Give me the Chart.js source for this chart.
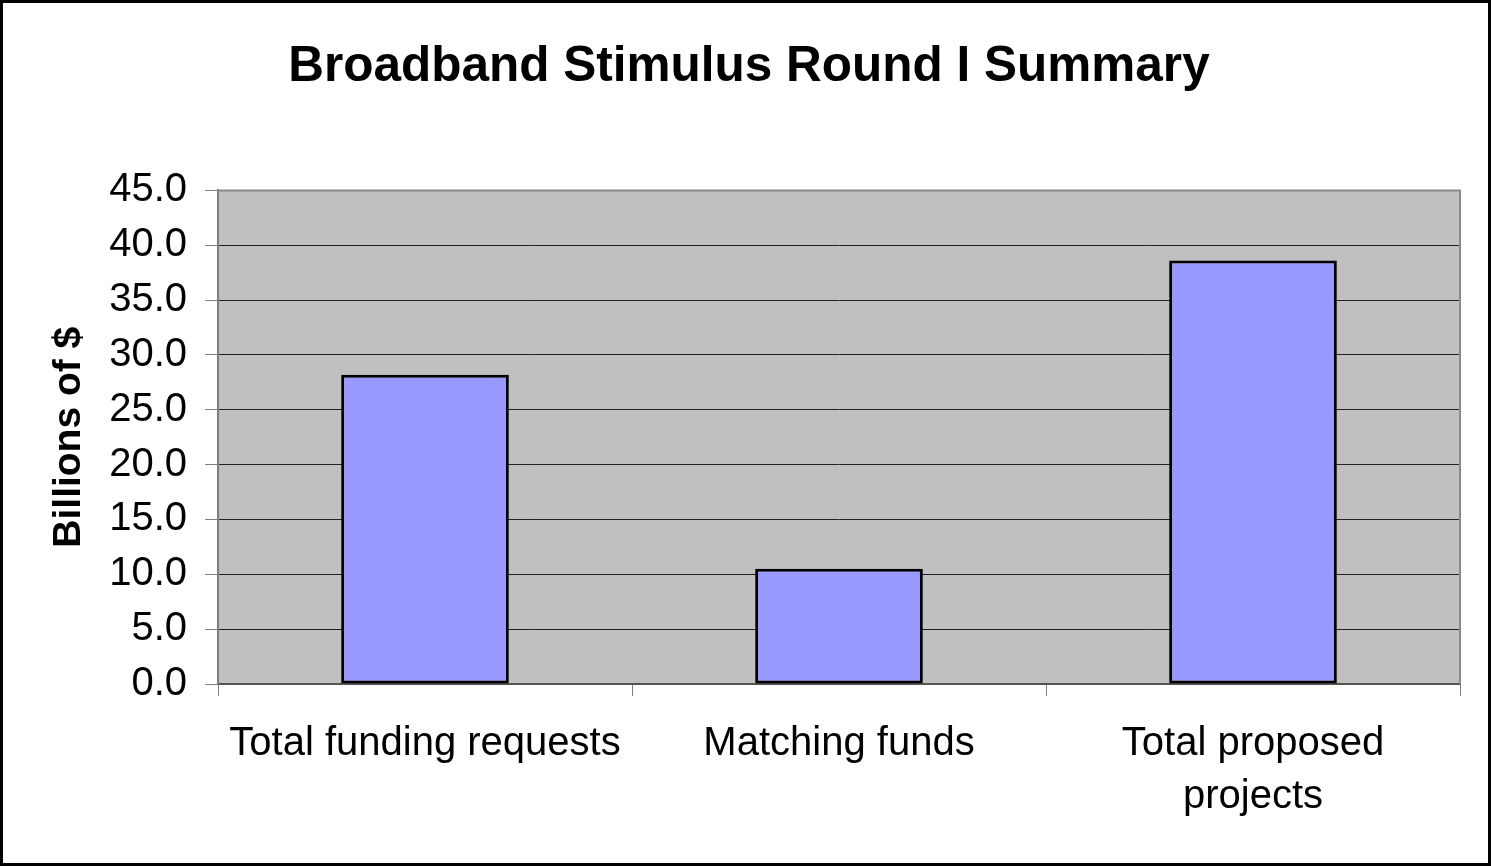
<!DOCTYPE html>
<html>
<head>
<meta charset="utf-8">
<script src="https://cdn.jsdelivr.net/npm/chart.js@4"></script>
<style>
    body { margin: 0; background: #fff; }
    #frame { width: 1491px; height: 866px; box-sizing: border-box; border: 3px solid #000; }
    canvas { display: block; }
</style>
</head>
<body>
<div id="frame"><canvas id="stimulusChart" width="1485" height="860"></canvas></div>
<script>
    const categories = ['Total funding requests', 'Matching funds', ['Total proposed', 'projects']];
    const billions = [28.2, 10.5, 38.6];
    const yMin = 0, yMax = 45, yStep = 5;

    const FONT = '"Liberation Sans", Arial, sans-serif';

    // grey plot area with a grey frame, like the old Excel chart
    const plotArea = {
        id: 'plotArea',
        beforeDraw(chart) {
            const a = chart.chartArea, c = chart.ctx;
            c.save();
            c.fillStyle = '#C0C0C0';
            c.fillRect(a.left, a.top, a.right - a.left, a.bottom - a.top);
            c.restore();
        },
        afterDraw(chart) {
            const a = chart.chartArea, c = chart.ctx;
            c.save();
            c.strokeStyle = '#8a8a8a';
            c.lineWidth = 2;
            c.beginPath();
            c.moveTo(a.left, a.top);
            c.lineTo(a.right, a.top);
            c.lineTo(a.right, a.bottom);
            c.stroke();
            c.restore();
        }
    };

    const ctx = document.getElementById('stimulusChart').getContext('2d');

    new Chart(ctx, {
        type: 'bar',
        data: {
            labels: categories,
            datasets: [{
                data: billions,
                backgroundColor: '#9999FF',
                borderColor: '#000',
                borderWidth: 3,
                borderSkipped: false,
                barPercentage: 0.405,
                categoryPercentage: 1
            }]
        },
        options: {
            responsive: false,
            animation: false,
            layout: { padding: { left: 35, right: 28, top: 0, bottom: 0 } },
            plugins: {
                legend: { display: false },
                tooltip: { enabled: false },
                title: {
                    display: true,
                    text: 'Broadband Stimulus Round I Summary',
                    color: '#000',
                    font: { family: FONT, size: 49.5, weight: 'bold', lineHeight: 1.2 },
                    padding: { top: 35, bottom: 93 }
                }
            },
            scales: {
                x: {
                    afterFit(scale) { scale.height = 179; },
                    grid: { drawOnChartArea: false, tickLength: 12, color: '#808080' },
                    border: { color: '#555', width: 2 },
                    ticks: {
                        color: '#000',
                        padding: 21,
                        maxRotation: 0,
                        font: { family: FONT, size: 40, lineHeight: 1.33 }
                    }
                },
                y: {
                    min: yMin,
                    max: yMax,
                    afterFit(scale) { scale.width = 180; },
                    grid: { color: '#222', tickColor: '#808080', tickLength: 13 },
                    border: { color: '#808080', width: 2 },
                    ticks: {
                        stepSize: yStep,
                        color: '#000',
                        padding: 18,
                        font: { family: FONT, size: 40 },
                        callback: v => v.toFixed(1)
                    },
                    title: {
                        display: true,
                        text: 'Billions of $',
                        color: '#000',
                        font: { family: FONT, size: 39, weight: 'bold', lineHeight: 1.2 },
                        padding: { top: 8, bottom: 0 }
                    }
                }
            }
        },
        plugins: [plotArea]
    });
</script>
</body>
</html>
